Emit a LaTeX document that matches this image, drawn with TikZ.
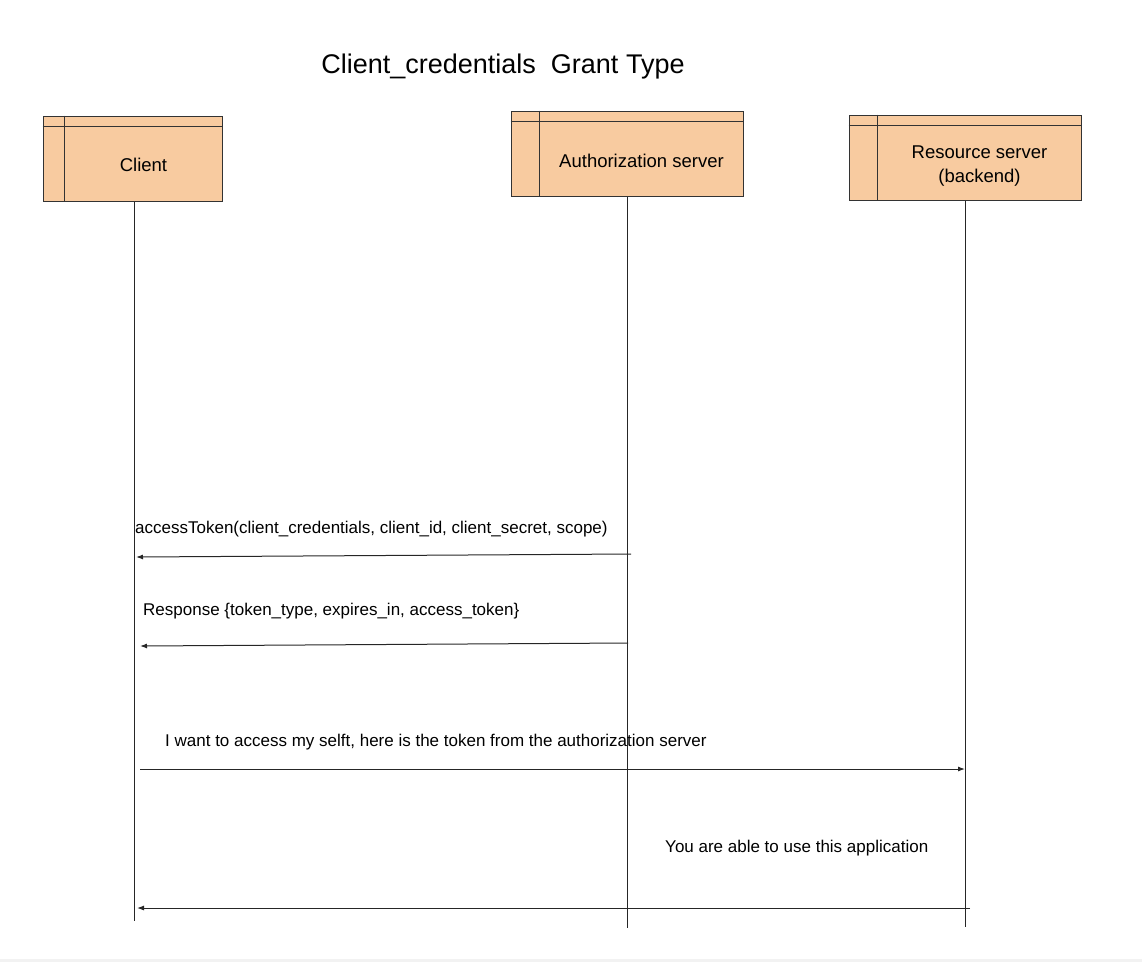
\documentclass[tikz,border=0pt]{standalone}
\usepackage{fontspec}
\setmainfont{Liberation Sans}
\usetikzlibrary{arrows.meta, calc, positioning}
\definecolor{ccPeach}{HTML}{F8CBA0}
\definecolor{ccEdge}{HTML}{333333}
\tikzset{
  actor/.style={draw=ccEdge, fill=ccPeach, line width=1pt, inner sep=0pt},
  actortext/.style={font=\fontsize{18.5}{22}\selectfont, align=center, inner sep=0pt},
  divider/.style={draw=ccEdge, line width=1pt},
  lifeline/.style={draw=black!85, line width=1pt},
  msg/.style={-{Latex[length=7pt, width=5pt]}, line width=1pt, black!85},
  msgtext/.style={font=\fontsize{17}{20}\selectfont, anchor=west, inner sep=0pt},
  titletext/.style={font=\fontsize{27}{32}\selectfont, inner sep=0pt}
}
\begin{document}
\begin{tikzpicture}[x=1pt, y=-1pt]
  \useasboundingbox (0,0) rectangle (1142,962);
  \fill[black!5] (0,959) rectangle (1142,962);

  \node[titletext] (title) at (503,67) {Client\_credentials\ \ Grant Type};

  % participants
  \node[actor, minimum width=179pt, minimum height=85pt] (client) at (132.5,158.5) {};
  \node[actor, minimum width=232pt, minimum height=85pt] (auth) at (627,153.5) {};
  \node[actor, minimum width=232pt, minimum height=85pt] (resource) at (965,157.5) {};

  \draw[divider] ($(client.north west)+(0,11)$) -- ($(client.north east)+(0,11)$);
  \draw[divider] ($(client.north west)+(22,0)$) -- ($(client.south west)+(22,0)$);
  \draw[divider] ($(auth.north west)+(0,11)$) -- ($(auth.north east)+(0,11)$);
  \draw[divider] ($(auth.north west)+(29,0)$) -- ($(auth.south west)+(29,0)$);
  \draw[divider] ($(resource.north west)+(0,10.5)$) -- ($(resource.north east)+(0,10.5)$);
  \draw[divider] ($(resource.north west)+(29,0)$) -- ($(resource.south west)+(29,0)$);

  \node[actortext] (clientlbl) at ($(client.center)+(11,6.5)$) {Client};
  \node[actortext] (authlbl) at ($(auth.center)+(14.5,7.5)$) {Authorization server};
  \node[actortext] (resourcelbl) at ($(resource.center)+(14.5,9)$) {Resource server\\[2pt](backend)};

  % lifelines
  \coordinate (clientend) at (134,921);
  \coordinate (authend) at (627,928);
  \coordinate (resourceend) at (965,927);
  \draw[lifeline] (clientend |- client.south) -- (clientend);
  \draw[lifeline] (authend |- auth.south) -- (authend);
  \draw[lifeline] (resourceend |- resource.south) -- (resourceend);

  % messages
  \coordinate (m1from) at (631,554);
  \coordinate (m1to) at (136,557);
  \coordinate (m2from) at (628,643);
  \coordinate (m2to) at (140,646);
  \coordinate (m3from) at (140,769);
  \coordinate (m3to) at (965,769);
  \coordinate (m4from) at (970,908);
  \coordinate (m4to) at (137,908);

  \draw[msg] (m1from) -- (m1to);
  \draw[msg] (m2from) -- (m2to);
  \draw[msg] (m3from) -- (m3to);
  \draw[msg] (m4from) -- (m4to);

  \node[msgtext] (m1lbl) at (135,529) {accessToken(client\_credentials, client\_id, client\_secret, scope)};
  \node[msgtext] (m2lbl) at (143,611) {Response \{token\_type, expires\_in, access\_token\}};
  \node[msgtext] (m3lbl) at (165,742) {I want to access my selft, here is the token from the authorization server};
  \node[msgtext] (m4lbl) at (665,848) {You are able to use this application};
\end{tikzpicture}
\end{document}
